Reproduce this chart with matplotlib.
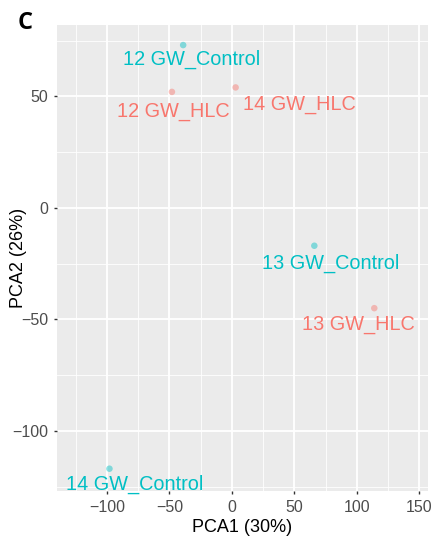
import matplotlib
matplotlib.use("Agg")
import matplotlib.pyplot as plt

plt.rcParams['font.family'] = ['Liberation Sans', 'DejaVu Sans']

# PCA scores
samples = ["12 GW_Control", "12 GW_HLC", "14 GW_HLC", "13 GW_Control", "13 GW_HLC", "14 GW_Control"]
pca1 = [-39, -48, 3, 66, 114, -98]
pca2 = [73, 52, 54, -17, -45, -117]
group = ["Control", "HLC", "HLC", "Control", "HLC", "Control"]
# where ggrepel put the labels
label_x = [-32.5, -46.5, 54, 79, 101, -77.5]
label_y = [66.5, 43, 46.5, -25, -52.5, -124]

colors = {"Control": "#00BFC4", "HLC": "#F8766D"}

fig = plt.figure(figsize=(4.36, 5.4), dpi=100)
ax = fig.add_axes([57 / 436, 1 - 491 / 540, 371 / 436, 466 / 540])
ax.set_facecolor("#EBEBEB")

for i in range(len(samples)):
    c = colors[group[i]]
    ax.scatter(pca1[i], pca2[i], s=22, color=c, alpha=0.45, edgecolors="none", zorder=3)
    ax.text(label_x[i], label_y[i], samples[i], color=c, fontsize=14.3,
            ha="center", va="center", zorder=4)

ax.set_xlim(-140, 157)
ax.set_ylim(-127, 82)
ax.set_xticks([-100, -50, 0, 50, 100, 150])
ax.set_xticklabels(["\u2212100", "\u221250", "0", "50", "100", "150"])
ax.set_yticks([-100, -50, 0, 50])
ax.set_yticklabels(["\u2212100", "\u221250", "0", "50"])
ax.set_xticks([-125, -75, -25, 25, 75, 125], minor=True)
ax.set_yticks([-125, -75, -25, 25, 75], minor=True)
ax.grid(which="major", color="white", linewidth=1.3)
ax.grid(which="minor", color="white", linewidth=0.6)
ax.set_axisbelow(True)
for s in ax.spines.values():
    s.set_visible(False)
ax.tick_params(which="major", length=2.5, width=1, color="#333333", labelsize=11.5,
               labelcolor="#4D4D4D", pad=4)
ax.tick_params(which="minor", length=0)

ax.set_xlabel("PCA1 (30%)", fontsize=13, labelpad=3)
ax.set_ylabel("PCA2 (26%)", fontsize=13, va="center")
ax.yaxis.set_label_coords(-0.105, 0.5)

fig.text(25 / 436, 1 - 23 / 540, "C", fontsize=17, fontweight="bold",
         family=["Open Sans", "DejaVu Sans"], va="center", ha="center")

fig.savefig("out.png", dpi=100)
